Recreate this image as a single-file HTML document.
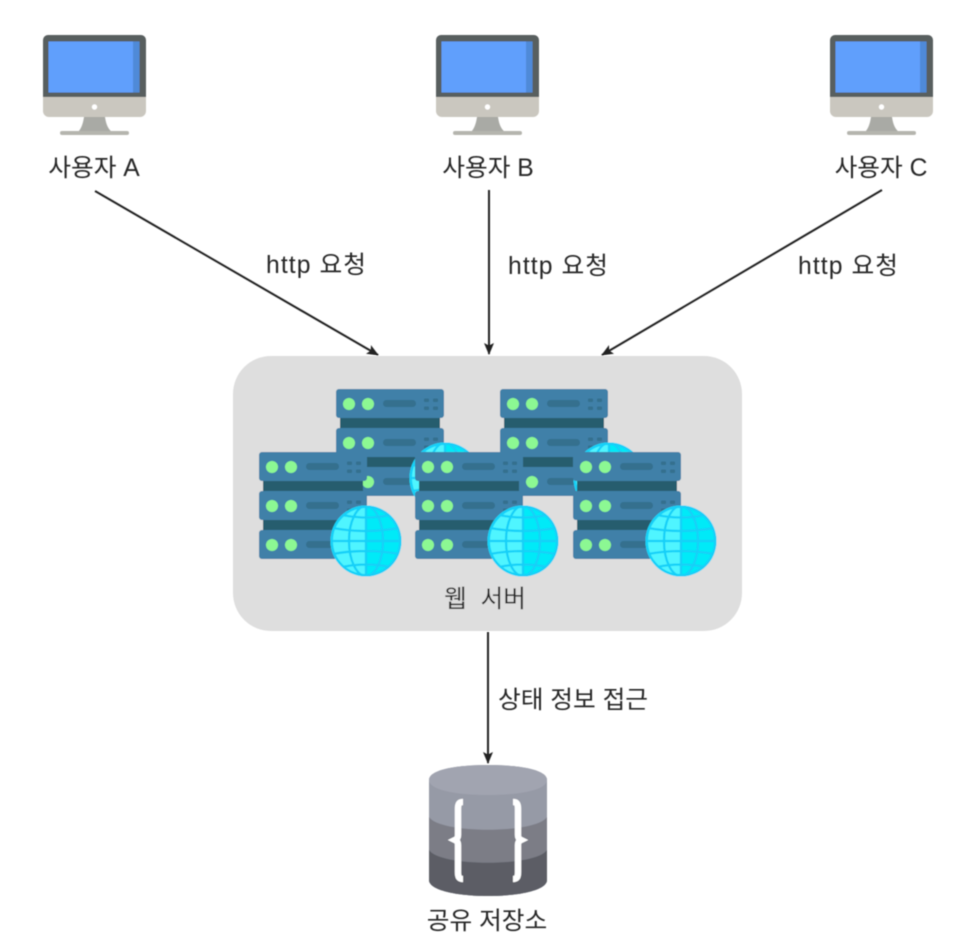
<!DOCTYPE html>
<html><head><meta charset="utf-8"><style>
html,body{margin:0;padding:0;background:#fff}
svg{display:block}
text{font-family:"Liberation Sans","Noto Sans CJK KR",sans-serif;font-size:24.700px;fill:#262626;text-anchor:middle}
</style></head><body>
<svg width="960" height="946" viewBox="0 0 960 946" xmlns="http://www.w3.org/2000/svg">
<defs>
<filter id="b" x="-5%" y="-5%" width="110%" height="110%"><feGaussianBlur stdDeviation="0.650"/></filter>
<g id="mon">
<path d="M43 98V40a5 5 0 0 1 5-5h93a5 5 0 0 1 5 5v58z" fill="#595e5f"/>
<rect x="48.500" y="41.500" width="91" height="51" fill="#609ffc"/>
<rect x="133" y="41.500" width="6.500" height="51" fill="#4f8ad8"/>
<path d="M43 97h103v14a6 6 0 0 1-6 6H49a6 6 0 0 1-6-6z" fill="#cac7bf"/>
<circle cx="94.500" cy="107" r="2.700" fill="#fff"/>
<path d="M84 117h21c1 7 3 12 7 15H78c3-3 5-8 6-15z" fill="#a9aaa5"/>
<rect x="60" y="131" width="69" height="4" rx="2" fill="#b5b5ae"/>
</g>
<g id="unit">
<rect x="0" y="0" width="108" height="29" rx="3" fill="#3f80a8"/>
<circle cx="13" cy="15" r="6" fill="#8cf893"/><circle cx="32" cy="15" r="6" fill="#8cf893"/>
<rect x="47" y="11" width="33" height="7" rx="3.500" fill="#346f8e"/>
<rect x="88" y="9.500" width="5" height="3.500" rx="1" fill="#346f8e"/><rect x="97" y="9.500" width="5" height="3.500" rx="1" fill="#346f8e"/>
<rect x="88" y="17.500" width="5" height="3.500" rx="1" fill="#346f8e"/><rect x="97" y="17.500" width="5" height="3.500" rx="1" fill="#346f8e"/>
</g>
<g id="stack">
<rect x="4" y="28" width="100" height="12" fill="#285d6e"/>
<rect x="4" y="67" width="100" height="12" fill="#285d6e"/>
<use href="#unit" y="0"/><use href="#unit" y="39"/><use href="#unit" y="78" />
</g>
<clipPath id="gc"><circle cx="0" cy="0" r="35.500"/></clipPath>
<g id="globe">
<circle r="35.500" fill="#00eaf8"/>
<path d="M0-35.500A35.500 35.500 0 0 0 0 35.500z" fill="#4ff5ff"/>
<g fill="none" stroke="#14d0f8" stroke-width="2.300" clip-path="url(#gc)">
<circle r="34.500" stroke-width="3"/>
<ellipse rx="17" ry="35"/>
<path d="M0-36V36M-36 0H36M-33-13Q0-7 33-13M-33 13Q0 7 33 13M-24-26Q0-21 24-26M-24 26Q0 21 24 26"/>
</g>
</g>
<marker id="a" viewBox="0 0 12 12" refX="11" refY="6" markerWidth="12" markerHeight="12" markerUnits="userSpaceOnUse" orient="auto"><path d="M0 1L12 6L0 11L2.500 6z" fill="#222"/></marker>
<clipPath id="cyl"><path d="M429 780C429 770 455 765 488 765S547 770 547 780V880C547 890 520 896 488 896S429 890 429 880z"/></clipPath>
</defs>
<g filter="url(#b)">
<use href="#mon"/><use href="#mon" x="393"/><use href="#mon" x="787"/>
<rect x="233" y="356" width="509" height="275" rx="38" fill="#dedede"/>
<use href="#stack" x="336" y="389"/><use href="#stack" x="500" y="389"/>
<use href="#globe" x="445" y="478"/><use href="#globe" x="609" y="478"/>
<use href="#stack" x="259" y="452"/><use href="#globe" x="366" y="541"/>
<use href="#stack" x="415" y="452"/><use href="#globe" x="523" y="541"/>
<use href="#stack" x="573" y="452"/><use href="#globe" x="681" y="541"/>
<g clip-path="url(#cyl)">
<rect x="429" y="760" width="118" height="140" fill="#969aa6"/>
<path d="M429 817C440 834 536 834 547 817V900H429z" fill="#7b7d86"/>
<path d="M429 850C440 867 536 867 547 850V900H429z" fill="#5b5d65"/>
</g>
<path d="M429 780C429 770 455 765 488 765S547 770 547 780C547 790 520 795 488 795S429 790 429 780z" fill="#a1a4b0"/>
<path d="M463 802C459 802 458 804 458 809V835C458 838 457 839 455 840C457 841 458 842 458 845V872C458 877 459 879 463 879" fill="none" stroke="#fff" stroke-width="6.500"/>
<path d="M513 802C517 802 518 804 518 809V835C518 838 519 839 521 840C519 841 518 842 518 845V872C518 877 517 879 513 879" fill="none" stroke="#fff" stroke-width="6.500"/>
<g stroke="#222" stroke-width="2" fill="none">
<path d="M95 191L378 355" marker-end="url(#a)"/>
<path d="M489 190V354" marker-end="url(#a)"/>
<path d="M882 190L602 355" marker-end="url(#a)"/>
<path d="M488 632V763" marker-end="url(#a)"/>
</g>
<text x="94" y="176">사용자 A</text>
<text x="488" y="176">사용자 B</text>
<text x="881" y="176">사용자 C</text>
<text x="316" y="273" textLength="100">http 요청</text>
<text x="558" y="274" textLength="100">http 요청</text>
<text x="848" y="274" textLength="100">http 요청</text>
<text x="485" y="607">웹&#160; 서버</text>
<text x="573" y="708">상태 정보 접근</text>
<text x="487" y="929">공유 저장소</text>
</g>
</svg>
</body></html>
